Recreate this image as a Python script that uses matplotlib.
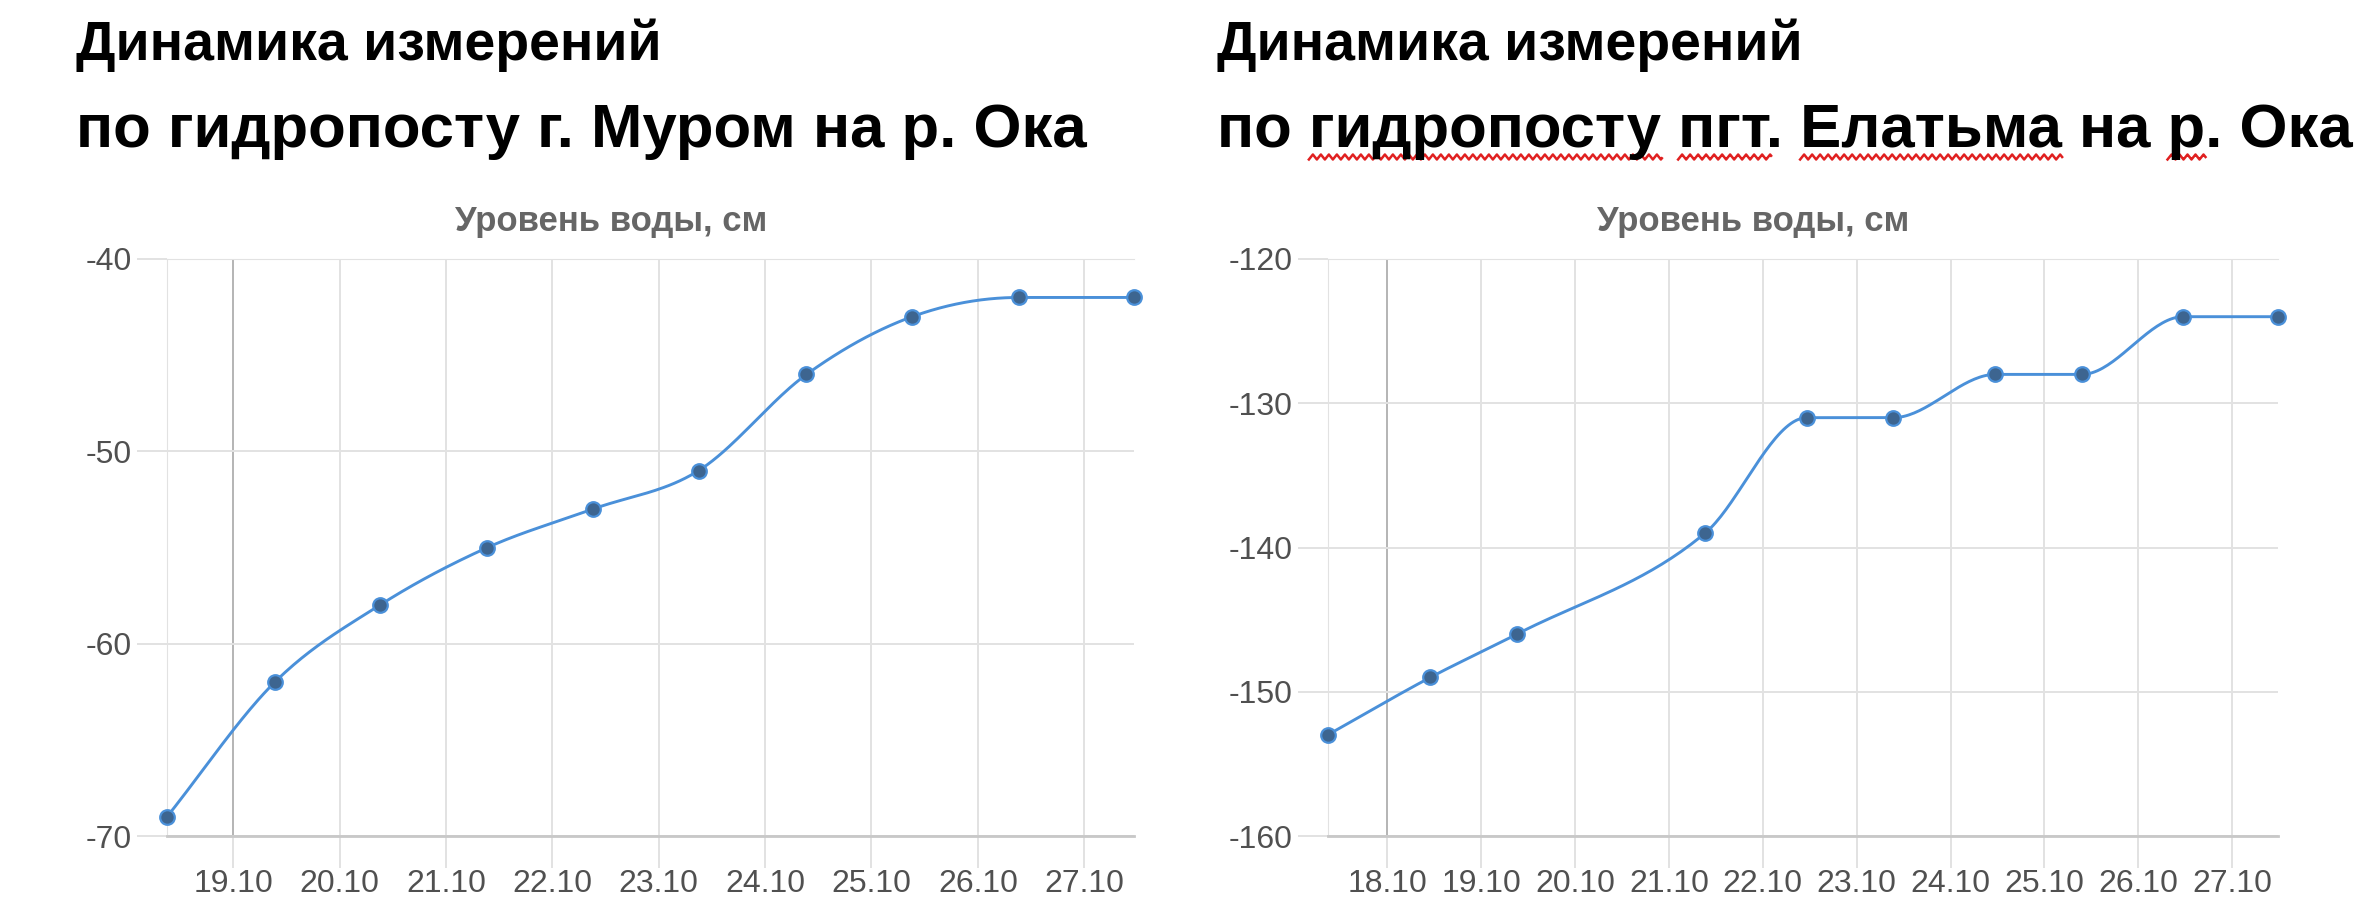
import numpy as np
import pandas as pd
import matplotlib
matplotlib.use("Agg")
import matplotlib.pyplot as plt
import matplotlib.dates as mdates
from matplotlib import font_manager
from matplotlib.lines import Line2D

# --- data ---
murom_times = ["2023-10-18 09:00", "2023-10-19 09:20", "2023-10-20 09:00",
               "2023-10-21 09:20", "2023-10-22 09:10", "2023-10-23 09:00",
               "2023-10-24 09:20", "2023-10-25 09:10", "2023-10-26 09:20",
               "2023-10-27 11:15"]
murom_levels = [-69, -62, -58, -55, -53, -51, -46, -43, -42, -42]

elatma_times = ["2023-10-17 08:40", "2023-10-18 11:00", "2023-10-19 09:10",
                "2023-10-21 09:15", "2023-10-22 11:15", "2023-10-23 09:20",
                "2023-10-24 11:30", "2023-10-25 09:35", "2023-10-26 11:30",
                "2023-10-27 11:45"]
elatma_levels = [-153, -149, -146, -139, -131, -131, -128, -128, -124, -124]

title_top = "Динамика измерений"
murom_title = "по гидропосту г. Муром на р. Ока"
elatma_title = "по гидропосту пгт. Елатьма на р. Ока"
chart_title = "Уровень воды, см"
spell_words = ["гидропосту", "пгт", "Елатьма", "р"]

LINE = "#4a90d9"
DOT = "#3d6590"
GRID = "#e2e2e2"
DARK = "#b4b4b4"
TICK_TXT = "#505050"

names = {f.name for f in font_manager.fontManager.ttflist}
narrow = "Liberation Sans Narrow" in names
tick_family = "Liberation Sans Narrow" if narrow else "Liberation Sans"
tick_size = 25 if narrow else 23
plt.rcParams['font.family'] = ['Liberation Sans', 'DejaVu Sans']
plt.rcParams['axes.unicode_minus'] = False

H1_SIZE = 40
H2_SIZE = 44.5


def monotone_curve(x, y, n=40):
    x = np.asarray(x, float)
    y = np.asarray(y, float)
    dx = np.diff(x)
    d = np.diff(y) / dx
    m = np.empty_like(y)
    m[0], m[-1] = d[0], d[-1]
    m[1:-1] = (d[:-1] + d[1:]) / 2
    for k in range(1, len(y) - 1):
        if d[k - 1] * d[k] <= 0:
            m[k] = 0
    for k in range(len(d)):
        if d[k] == 0:
            m[k] = m[k + 1] = 0
            continue
        a, b = m[k] / d[k], m[k + 1] / d[k]
        s = a * a + b * b
        if s > 9:
            t = 3 / np.sqrt(s)
            m[k], m[k + 1] = t * a * d[k], t * b * d[k]
    xs, ys = [], []
    for k in range(len(d)):
        t = np.linspace(0, 1, n)
        h00 = 2 * t**3 - 3 * t**2 + 1
        h10 = t**3 - 2 * t**2 + t
        h01 = -2 * t**3 + 3 * t**2
        h11 = t**3 - t**2
        xs.append(x[k] + t * dx[k])
        ys.append(h00 * y[k] + h10 * dx[k] * m[k] + h01 * y[k + 1] + h11 * dx[k] * m[k + 1])
    return np.concatenate(xs), np.concatenate(ys)


def draw_panel(ax, times, levels, ymin, ymax):
    t = pd.to_datetime(times)
    x = mdates.date2num(t)
    cx, cy = monotone_curve(x, levels)
    ax.plot(cx, cy, color=LINE, lw=2.1, zorder=3, clip_on=False)
    ax.plot(x, levels, 'o', ms=10.5, mfc=DOT, mec=LINE, mew=1.6, zorder=4, clip_on=False)
    ax.set_xlim(x[0], x[-1])
    ax.set_ylim(ymin, ymax)
    days = pd.date_range(t[0].ceil('D'), t[-1].floor('D'), freq='D')
    ax.set_xticks(mdates.date2num(days))
    ax.set_xticklabels(days.strftime('%d.%m'))
    ax.set_yticks(np.arange(ymin, ymax + 1, 10))
    ax.grid(True, color=GRID, lw=1.4, zorder=0)
    ax.set_axisbelow(True)
    ax.tick_params(axis='both', color=GRID, width=1.4, labelsize=tick_size, labelcolor=TICK_TXT)
    ax.tick_params(axis='x', length=23, pad=1)
    ax.tick_params(axis='y', length=21.6, pad=3.6)
    for lbl in ax.get_xticklabels() + ax.get_yticklabels():
        lbl.set_fontfamily(tick_family)
    ax.spines['right'].set_visible(False)
    ax.spines['top'].set_color(GRID)
    ax.spines['left'].set_color(GRID)
    ax.spines['bottom'].set_color('#c8c8c8')
    ax.spines['bottom'].set_linewidth(2)
    first = ax.xaxis.get_major_ticks()[0]
    first.gridline.set_color(DARK)
    first.tick1line.set_color(DARK)


W, H = 2370, 910
fig = plt.figure(figsize=(W / 100, H / 100), dpi=100)

ax1 = fig.add_axes([167 / W, 74 / H, 967 / W, 577 / H])
draw_panel(ax1, murom_times, murom_levels, -70, -40)
ax2 = fig.add_axes([1327.5 / W, 74 / H, 950.5 / W, 577 / H])
draw_panel(ax2, elatma_times, elatma_levels, -160, -120)

# headings
for x0, sub in [(76, murom_title), (1217, elatma_title)]:
    fig.text(x0 / W, 1 - 60 / H, title_top, fontsize=H1_SIZE, fontweight='bold', va='baseline')
    fig.text(x0 / W, 1 - 147 / H, sub, fontsize=H2_SIZE, fontweight='bold', va='baseline')

fig.text(611 / W, 1 - 222 / H, chart_title, fontsize=25, fontweight='bold',
         color='#666666', ha='center', va='center')
fig.text(1753 / W, 1 - 222 / H, chart_title, fontsize=25, fontweight='bold',
         color='#666666', ha='center', va='center')

# red spell-check squiggles under the right heading
renderer = fig.canvas.get_renderer()


def text_width(s):
    tmp = fig.text(0, 0, s, fontsize=H2_SIZE, fontweight='bold')
    w = tmp.get_window_extent(renderer).width
    tmp.remove()
    return w


pos = 0
for word in spell_words:
    i = elatma_title.index(word, pos)
    pos = i + len(word)
    right = 1217 + text_width(elatma_title[:pos])
    left = right - text_width(word)
    xs = np.arange(left, right + 1, 1.0)
    ys = 157 + 5 * np.abs(((xs - left) / 4) % 2 - 1) - 2.5
    fig.add_artist(Line2D(xs / W, 1 - ys / H, transform=fig.transFigure,
                          color='#e02020', lw=1.8))

fig.savefig('out.png', dpi=100)
